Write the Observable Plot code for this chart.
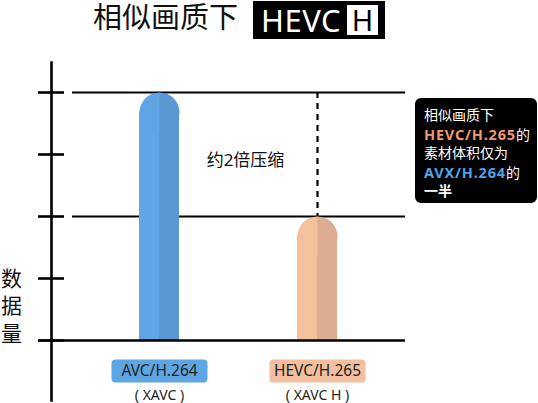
<!DOCTYPE html>
<html>
<head>
<meta charset="utf-8">
<script src="https://cdn.jsdelivr.net/npm/d3@7"></script>
<script src="https://cdn.jsdelivr.net/npm/@observablehq/plot@0.6"></script>
<style>
  html, body { margin: 0; padding: 0; background: #fff; }
  #wrap { position: relative; width: 538px; height: 403px; overflow: hidden;
          font-family: "Noto Sans", "Noto Sans CJK SC", sans-serif; }
  #wrap svg { position: absolute; left: 0; top: 0; }
  .title { position: absolute; left: 93px; top: 0; height: 37px; line-height: 37px;
           font-size: 29px; color: #111; font-family: "Liberation Sans", "Noto Sans CJK SC", sans-serif; }
  .tag { position: absolute; left: 253px; top: 1px; width: 132px; height: 38px;
         background: #000; color: #fff; font-size: 31px; line-height: 38px; }
  .tag .name { position: absolute; left: 8px; top: 0; letter-spacing: 0.5px; }
  .tag .h { position: absolute; left: 94px; top: 4px; width: 31px; height: 30px;
            background: #fff; color: #000; text-align: center; line-height: 30px; font-size: 29px; }
  .note { position: absolute; left: 415px; top: 98px; width: 122px; height: 105px;
          box-sizing: border-box; padding: 8px 0 0 9px; background: #000; border-radius: 6px;
          color: #fff; font-size: 14px; line-height: 18.5px;
          font-family: "Noto Sans", "Noto Sans CJK SC", sans-serif; white-space: nowrap; }
  .note b { font-weight: 700; }
  .note .hevc, .note .avc { font-size: 14.5px; letter-spacing: 0.8px; }
  .note .hevc { color: #f29a6c; }
  .note .avc { color: #4ea3ea; }
</style>
</head>
<body>
<div id="wrap"></div>
<script>
// Codecs compared and the relative amount of data each needs at similar quality
const codecs = ["AVC/H.264", "HEVC/H.265"];
const formats = ["( XAVC )", "( XAVC H )"];
const dataVolume = [4, 2];
const yTicks = [0, 1, 2, 3, 4];
const gridLevels = [4, 2];

const lightColors = ["#60a5e6", "#f5c09c"];
const darkColors = ["#5a98d4", "#dcad90"];
const badgeColors = ["#5da5e3", "#f3bf9e"];

const rows = codecs.map((codec, i) => ({
  codec,
  format: formats[i],
  value: dataVolume[i],
  light: lightColors[i],
  dark: darkColors[i],
  badge: badgeColors[i]
}));

const ratio = dataVolume[0] / dataVolume[1];

// Half-disc symbols for the rounded bar tops (left and right halves)
const capLeft = {
  draw(ctx, size) {
    const r = Math.sqrt(size / Math.PI);
    ctx.moveTo(0.5, -r);
    ctx.lineTo(0, -r);
    ctx.arc(0, 0, r, -Math.PI / 2, Math.PI / 2, true);
    ctx.lineTo(0.5, r);
    ctx.closePath();
  }
};
const capRight = {
  draw(ctx, size) {
    const r = Math.sqrt(size / Math.PI);
    ctx.moveTo(0, -r);
    ctx.arc(0, 0, r, -Math.PI / 2, Math.PI / 2, false);
    ctx.closePath();
  }
};
// Rounded label badge under each bar
const badge = {
  draw(ctx) {
    const w = 48, h = 11.5, r = 4;
    ctx.moveTo(-w + r, -h);
    ctx.lineTo(w - r, -h);
    ctx.arcTo(w, -h, w, -h + r, r);
    ctx.lineTo(w, h - r);
    ctx.arcTo(w, h, w - r, h, r);
    ctx.lineTo(-w + r, h);
    ctx.arcTo(-w, h, -w, h - r, r);
    ctx.lineTo(-w, -h + r);
    ctx.arcTo(-w, -h, -w + r, -h, r);
    ctx.closePath();
  }
};

const barR = 20;
const cjk = "Noto Sans, Noto Sans CJK SC, sans-serif";

const chart = Plot.plot({
  width: 538,
  height: 403,
  marginLeft: 51,
  marginRight: 133,
  marginTop: 62,
  marginBottom: 3,
  style: { background: "transparent", fontFamily: cjk },
  x: { type: "band", domain: codecs, range: [138, 337], paddingInner: 0.7484, paddingOuter: 0, axis: null },
  y: { domain: [0, 4], range: [340, 92], axis: null },
  marks: [
    // vertical axis line
    Plot.frame({ anchor: "left", stroke: "#000", strokeWidth: 2.6 }),
    // tick marks crossing the axis
    Plot.ruleY(yTicks, { y: d => d, insetLeft: -13, insetRight: 354 - 13, stroke: "#000", strokeWidth: 2.6 }),
    // reference levels
    Plot.ruleY(gridLevels, { y: d => d, insetLeft: 21, stroke: "#000", strokeWidth: 2 }),
    // dashed drop between the two levels
    Plot.ruleX([rows[1]], { x: "codec", y1: rows[0].value, y2: "value", stroke: "#000", strokeWidth: 2.2, strokeDasharray: "6,5" }),
    // bar bodies, split into light and dark halves
    Plot.barY(rows, { x: "codec", y: "value", fill: "light", insetRight: barR, insetTop: barR - 0.5 }),
    Plot.barY(rows, { x: "codec", y: "value", fill: "dark", insetLeft: barR, insetTop: barR - 0.5 }),
    Plot.dot(rows, { x: "codec", y: "value", dy: barR, r: barR, symbol: capLeft, fill: "light", stroke: "none" }),
    Plot.dot(rows, { x: "codec", y: "value", dy: barR, r: barR, symbol: capRight, fill: "dark", stroke: "none" }),
    // baseline
    Plot.ruleY([0], { insetLeft: -13, stroke: "#000", strokeWidth: 2.6 }),
    // compression annotation
    Plot.text([`约${ratio}倍压缩`], { x: () => codecs[1], y: () => (dataVolume[0] + dataVolume[1]) / 2, dx: -72, dy: 6, text: d => d, fontSize: 17, fill: "#111" }),
    // category badges and format names
    Plot.dot(rows, { x: "codec", y: 0, dy: 30.5, r: 10, symbol: badge, fill: "badge", stroke: "none" }),
    Plot.text(rows, { x: "codec", y: 0, dy: 30.5, text: "codec", fontSize: 15.5, fill: "#222" }),
    Plot.text(rows, { x: "codec", y: 0, dy: 55, text: "format", fontSize: 14, fill: "#222" }),
    // vertical axis label, one character per line
    Plot.text(["数\n据\n量"], { frameAnchor: "left", y: () => 0, dx: -40, textAnchor: "middle", lineAnchor: "bottom", lineHeight: 1.3, text: d => d, fontSize: 21, fill: "#111", fontFamily: "Noto Sans CJK SC, sans-serif" })
  ]
});

const wrap = document.getElementById("wrap");
wrap.appendChild(chart);

// Title and side note
wrap.insertAdjacentHTML("beforeend", `
  <div class="title">相似画质下</div>
  <div class="tag"><span class="name">HEVC</span><span class="h">H</span></div>
  <div class="note">相似画质下<br><b class="hevc">HEVC/H.265</b>的<br>素材体积仅为<br><b class="avc">AVX/H.264</b>的<br><b>一半</b></div>
`);
</script>
</body>
</html>
